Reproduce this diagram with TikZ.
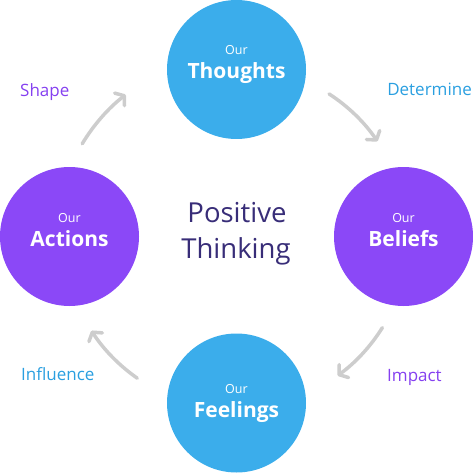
\documentclass[tikz,border=0pt]{standalone}
\usepackage{fontspec}
\setmainfont{Open Sans}
\usetikzlibrary{arrows.meta}
\definecolor{cblue}{HTML}{3BADEB}
\definecolor{cpurple}{HTML}{8B48F7}
\definecolor{lblue}{HTML}{2A9FE0}
\definecolor{lpurple}{HTML}{8540F0}
\definecolor{cdark}{HTML}{382D78}
\definecolor{cgray}{HTML}{CDCDCD}
\begin{document}
\begin{tikzpicture}[x=1pt,y=-1pt,
  bubble/.style={circle,minimum size=139pt,inner sep=0pt,draw=none},
  ourtxt/.style={anchor=base,text=white,font=\fontsize{12.5}{14}\selectfont,inner sep=0pt},
  bigtxt/.style={anchor=base,text=white,font=\fontsize{21}{24}\bfseries\selectfont,inner sep=0pt},
  lbl/.style={anchor=base west,font=\fontsize{17}{20}\selectfont,inner sep=0pt},
  ctr/.style={anchor=base,text=cdark,font=\fontsize{27.5}{30}\selectfont,inner sep=0pt},
  arr/.style={draw=cgray,line width=3.5pt,line cap=round,-{Straight Barb[length=6pt,width=16pt,round]}}]
\useasboundingbox (0,0) rectangle (473,473);
% circles
\node[bubble,fill=cblue]   (th) at (236.5,69.5) {};
\node[bubble,fill=cpurple] (ac) at (69.5,236.5) {};
\node[bubble,fill=cpurple] (be) at (403.5,236.5) {};
\node[bubble,fill=cblue]   (fe) at (236.5,403) {};
% texts in circles
\node[ourtxt] (th1) at (236.5,55) {Our};
\node[bigtxt] (th2) at (236.5,79) {Thoughts};
\node[ourtxt] (ac1) at (69.5,222) {Our};
\node[bigtxt] (ac2) at (69.5,246) {Actions};
\node[ourtxt] (be1) at (403.5,222) {Our};
\node[bigtxt] (be2) at (403.5,246) {Beliefs};
\node[ourtxt] (fe1) at (236.5,393) {Our};
\node[bigtxt] (fe2) at (236.5,417) {Feelings};
% center
\node[ctr] (p1) at (237,222) {Positive};
\node[ctr] (p2) at (236,258) {Thinking};
% labels
\node[lbl,text=lpurple] (l1) at (20,96.5) {Shape};
\node[lbl,text=lblue,anchor=base east] (l2) at (472,96) {Determine};
\node[lbl,text=lblue] (l3) at (21,380) {Influence};
\node[lbl,text=lpurple] (l4) at (387,381) {Impact};
% arrows (angles negated because the y axis points down)
\coordinate (c) at (236.5,236.5);
\draw[arr] ([shift={(-149:180)}]c) arc[start angle=-149,end angle=-128,radius=180];
\draw[arr] ([shift={(-57:170)}]c) arc[start angle=-57,end angle=-34,radius=170];
\draw[arr] ([shift={(32:172)}]c) arc[start angle=32,end angle=54,radius=172];
\draw[arr] ([shift={(125:173)}]c) arc[start angle=125,end angle=147,radius=173];
\end{tikzpicture}
\end{document}
